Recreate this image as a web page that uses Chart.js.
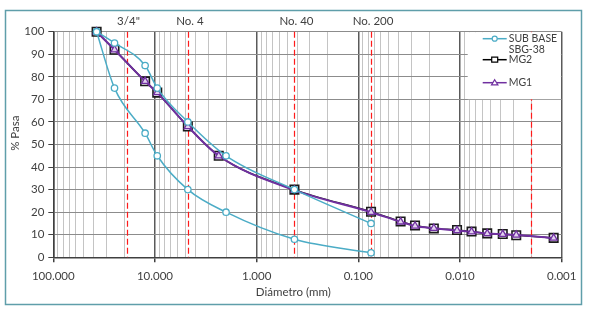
<!DOCTYPE html>
<html>
<head>
<meta charset="utf-8">
<script src="https://cdn.jsdelivr.net/npm/chart.js@4.4.0/dist/chart.umd.min.js"></script>
<style>
  html, body { margin: 0; padding: 0; background: #ffffff; }
  #wrap { position: relative; width: 589px; height: 310px; }
</style>
</head>
<body>
<div id="wrap"><canvas id="c" width="589" height="310"></canvas></div>
<script>
// ---- data ----
const subBaseUpperD = [37.5, 25, 12.5, 9.5, 4.75, 2.0, 0.425, 0.075];
const subBaseUpperP = [100, 95, 85, 75, 60, 45, 30, 15];
const subBaseLowerD = [37.5, 25, 12.5, 9.5, 4.75, 2.0, 0.425, 0.075];
const subBaseLowerP = [100, 75, 55, 45, 30, 20, 8, 2];
const mgD = [37.5, 25, 12.5, 9.5, 4.75, 2.36, 0.425, 0.075, 0.0384, 0.0277, 0.0181, 0.0107, 0.0077, 0.0054, 0.0038, 0.0028, 0.0012];
const mg2P = [100, 92, 78, 73, 58, 45, 30, 20.2, 15.9, 14.1, 12.8, 12.1, 11.4, 10.6, 10.3, 9.8, 8.6];
const mg1P = [100, 92, 78, 73, 58, 45, 29.8, 20.0, 15.7, 13.9, 12.9, 11.9, 11.3, 10.5, 10.2, 9.9, 8.5];
const sieveSizes = [19.05, 4.75, 0.425, 0.075, 0.002];
const sieveLabels = ['3/4"', 'No. 4', 'No. 40', 'No. 200', ''];
const xTickDecades = [100, 10, 1, 0.1, 0.01, 0.001];
const yTicks = [0, 10, 20, 30, 40, 50, 60, 70, 80, 90, 100];

const FONT = 'Lato, "Open Sans", "Liberation Sans", sans-serif';
const TEXT = '#404040';
const TEAL = '#4bacc6';
const PURPLE = '#7030a0';

function pts(xs, ys) { return xs.map((x, i) => ({ x: x, y: ys[i] })); }
function isDecade(v) { const l = Math.log10(v); return Math.abs(l - Math.round(l)) < 1e-9; }

const decorPlugin = {
  id: 'decor',
  beforeDraw(chart) {
    const ctx = chart.ctx;
    ctx.save();
    ctx.fillStyle = '#ffffff';
    ctx.fillRect(0, 0, chart.width, chart.height);
    ctx.strokeStyle = '#5f9eaa';
    ctx.lineWidth = 1.5;
    ctx.strokeRect(5.5, 10.5, 576, 294);
    ctx.restore();
  },
  beforeDatasetsDraw(chart) {
    const ctx = chart.ctx, a = chart.chartArea, xs = chart.scales.x;
    ctx.save();
    ctx.strokeStyle = '#ff1a1a';
    ctx.lineWidth = 1.2;
    ctx.setLineDash([6, 3]);
    sieveSizes.forEach(s => {
      const px = Math.round(xs.getPixelForValue(s)) + 0.5;
      ctx.beginPath(); ctx.moveTo(px, a.top); ctx.lineTo(px, a.bottom); ctx.stroke();
    });
    ctx.setLineDash([]);
    // legend box background (covers grid)
    const lx = a.right - 94;
    ctx.fillStyle = '#ffffff';
    ctx.fillRect(lx, a.top + 0.5, a.right - lx - 0.8, 67);
    ctx.restore();
  },
  afterDraw(chart) {
    const ctx = chart.ctx, a = chart.chartArea, xs = chart.scales.x;
    ctx.save();
    ctx.fillStyle = TEXT;
    ctx.font = '11.5px ' + FONT;
    ctx.textAlign = 'center';
    ctx.textBaseline = 'middle';
    sieveSizes.forEach((s, i) => {
      if (!sieveLabels[i]) return;
      ctx.fillText(sieveLabels[i], xs.getPixelForValue(s) + 2, a.top - 10);
    });
    ctx.fillText('Diámetro (mm)', a.left + (a.right - a.left) * 0.472, a.bottom + 35);
    ctx.save();
    ctx.translate(15, a.top + (a.bottom - a.top) * 0.45);
    ctx.rotate(-Math.PI / 2);
    ctx.fillText('% Pasa', 0, 0);
    ctx.restore();
    // legend
    const lx = a.right - 94, ly = a.top;
    ctx.font = '10.5px ' + FONT;
    ctx.textAlign = 'left';
    const items = [
      { y: ly + 7, color: TEAL, marker: 'circle', label: ['SUB BASE', 'SBG-38'] },
      { y: ly + 28, color: '#000000', marker: 'rect', label: ['MG2'] },
      { y: ly + 51, color: PURPLE, marker: 'triangle', label: ['MG1'] }
    ];
    items.forEach(it => {
      ctx.strokeStyle = it.color;
      ctx.lineWidth = 1.5;
      ctx.beginPath(); ctx.moveTo(lx + 15, it.y); ctx.lineTo(lx + 39, it.y); ctx.stroke();
      const cx = lx + 27;
      ctx.fillStyle = '#ffffff';
      ctx.lineWidth = 1.2;
      ctx.beginPath();
      if (it.marker === 'circle') ctx.arc(cx, it.y, 2.5, 0, Math.PI * 2);
      else if (it.marker === 'rect') ctx.rect(cx - 3, it.y - 2.5, 6, 5);
      else { ctx.moveTo(cx, it.y - 3); ctx.lineTo(cx + 3.2, it.y + 2.2); ctx.lineTo(cx - 3.2, it.y + 2.2); ctx.closePath(); }
      ctx.fill(); ctx.stroke();
      ctx.fillStyle = TEXT;
      it.label.forEach((t, k) => ctx.fillText(t, lx + 41, it.y + k * 11));
    });
    ctx.restore();
  }
};

new Chart(document.getElementById('c'), {
  type: 'line',
  data: {
    datasets: [
      {
        label: 'SUB BASE SBG-38', data: pts(subBaseUpperD, subBaseUpperP),
        borderColor: TEAL, backgroundColor: '#ffffff', borderWidth: 1.5, clip: false,
        pointStyle: 'circle', pointRadius: 3.2, pointBorderWidth: 1.3, cubicInterpolationMode: 'monotone', order: 1
      },
      {
        label: '', data: pts(subBaseLowerD, subBaseLowerP),
        borderColor: TEAL, backgroundColor: '#ffffff', borderWidth: 1.5, clip: false,
        pointStyle: 'circle', pointRadius: 3.2, pointBorderWidth: 1.3, cubicInterpolationMode: 'monotone', order: 1
      },
      {
        label: 'MG2', data: pts(mgD, mg2P),
        borderColor: '#1a1a1a', backgroundColor: '#f4eefa', borderWidth: 1.5, clip: false,
        pointStyle: 'rect', pointRadius: 6, pointBorderWidth: 1.6, cubicInterpolationMode: 'monotone', order: 3
      },
      {
        label: 'MG1', data: pts(mgD, mg1P),
        borderColor: PURPLE, backgroundColor: '#e3d3f0', borderWidth: 2, clip: false,
        pointStyle: 'triangle', pointRadius: 4.2, pointBorderWidth: 1.3, cubicInterpolationMode: 'monotone', order: 2
      }
    ]
  },
  options: {
    responsive: false,
    animation: false,
    devicePixelRatio: 1,
    layout: { padding: { left: 0, top: 31.7, right: 27.3, bottom: 0 } },
    plugins: { legend: { display: false }, tooltip: { enabled: false } },
    scales: {
      x: {
        type: 'logarithmic', reverse: true, min: 0.001, max: 100,
        afterBuildTicks(scale) {
          const t = [];
          for (let e = -3; e <= 1; e++) for (let m = 1; m <= 9; m++) t.push({ value: parseFloat((m * Math.pow(10, e)).toPrecision(6)) });
          t.push({ value: 100 });
          scale.ticks = t;
        },
        afterFit(scale) { scale.height = 52.7; },
        ticks: {
          autoSkip: false, maxRotation: 0, minRotation: 0, padding: 7,
          color: TEXT, font: { family: FONT, size: 11.5 },
          callback(v) { return xTickDecades.some(d => Math.abs(d - v) < 1e-12) ? Number(v).toFixed(3) : ''; }
        },
        grid: {
          color: c => isDecade(c.tick.value) ? '#5a5a5a' : '#c4c4c4',
          lineWidth: c => isDecade(c.tick.value) ? 1.5 : 1,
          tickColor: c => isDecade(c.tick.value) ? '#404040' : 'rgba(0,0,0,0)',
          tickLength: 5
        },
        border: { color: '#404040', width: 1.5 }
      },
      y: {
        type: 'linear', min: 0, max: 100,
        afterFit(scale) { scale.width = 53.3; },
        ticks: {
          stepSize: 5, padding: 4, color: TEXT, font: { family: FONT, size: 11.5 },
          callback(v) { return yTicks.includes(v) ? String(v) : ''; }
        },
        grid: {
          color: c => (c.tick.value % 10 === 0) ? '#8c8c8c' : '#cfcfcf',
          lineWidth: 1,
          tickColor: '#404040',
          tickLength: 5
        },
        border: { color: '#404040', width: 1.5 }
      }
    }
  },
  plugins: [decorPlugin]
});
</script>
</body>
</html>
